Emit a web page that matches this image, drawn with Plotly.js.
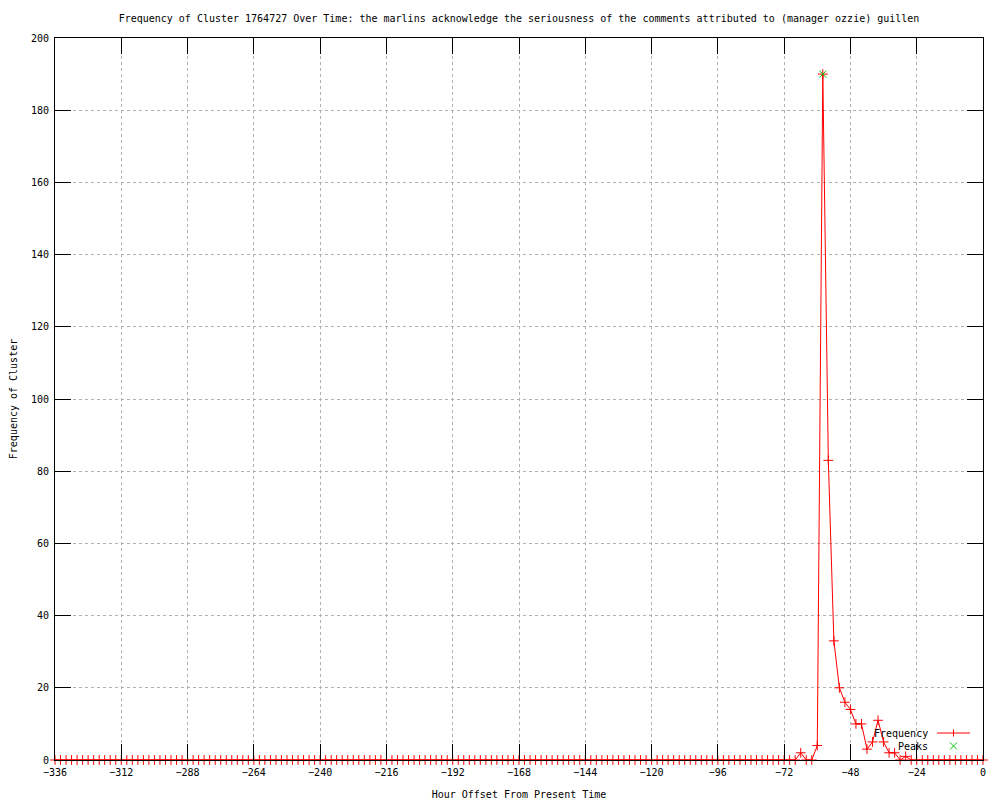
<!DOCTYPE html>
<html>
<head>
<meta charset="utf-8">
<script src="https://cdn.plot.ly/plotly-3.0.1.min.js"></script>
<style>html,body{margin:0;padding:0;background:#fff;}#chart{width:1000px;height:800px;}</style>
</head>
<body>
<div id="chart"></div>
<script>
// Hour offsets (2-hour bins)
var hours = [
  -336,-334,-332,-330,-328,-326,-324,-322,-320,-318,-316,-314,
  -312,-310,-308,-306,-304,-302,-300,-298,-296,-294,-292,-290,
  -288,-286,-284,-282,-280,-278,-276,-274,-272,-270,-268,-266,
  -264,-262,-260,-258,-256,-254,-252,-250,-248,-246,-244,-242,
  -240,-238,-236,-234,-232,-230,-228,-226,-224,-222,-220,-218,
  -216,-214,-212,-210,-208,-206,-204,-202,-200,-198,-196,-194,
  -192,-190,-188,-186,-184,-182,-180,-178,-176,-174,-172,-170,
  -168,-166,-164,-162,-160,-158,-156,-154,-152,-150,-148,-146,
  -144,-142,-140,-138,-136,-134,-132,-130,-128,-126,-124,-122,
  -120,-118,-116,-114,-112,-110,-108,-106,-104,-102,-100,-98,
  -96,-94,-92,-90,-88,-86,-84,-82,-80,-78,-76,-74,
  -72,-70,-68,-66,-64,-62,-60,-58,-56,-54,-52,-50,
  -48,-46,-44,-42,-40,-38,-36,-34,-32,-30,-28,-26,
  -24,-22,-20,-18,-16,-14,-12,-10,-8,-6,-4,-2,
  0
];
var frequency = [
  0,0,0,0,0,0,0,0,0,0,0,0,
  0,0,0,0,0,0,0,0,0,0,0,0,
  0,0,0,0,0,0,0,0,0,0,0,0,
  0,0,0,0,0,0,0,0,0,0,0,0,
  0,0,0,0,0,0,0,0,0,0,0,0,
  0,0,0,0,0,0,0,0,0,0,0,0,
  0,0,0,0,0,0,0,0,0,0,0,0,
  0,0,0,0,0,0,0,0,0,0,0,0,
  0,0,0,0,0,0,0,0,0,0,0,0,
  0,0,0,0,0,0,0,0,0,0,0,0,
  0,0,0,0,0,0,0,0,0,0,0,0,
  0,0,0,2,0,0,4,190,83,33,20,16,
  14,10,10,3,5,11,5,2,2,0,1,0,
  0,0,0,0,0,0,0,0,0,0,0,0,
  0
];
var peakHours = [-58];
var peakValues = [190];

var titleText = "Frequency of Cluster 1764727 Over Time: the marlins acknowledge the seriousness of the comments attributed to (manager ozzie) guillen";
var xTitle = "Hour Offset From Present Time";
var yTitle = "Frequency of Cluster";
var seriesNames = ["Frequency", "Peaks"];

var FONT = "DejaVu Sans Mono, monospace";
var L = 55, R = 983, T = 38, B = 760;
function px(x){ return (x - L) / (R - L); }
function py(y){ return (B - y) / (B - T); }

var traces = [
  {
    x: hours, y: frequency, type: "scatter", mode: "lines+markers",
    name: seriesNames[0], cliponaxis: false,
    line: {color: "#ff0000", width: 1},
    marker: {symbol: "cross-thin-open", size: 7, color: "#ff0000", line: {color: "#ff0000", width: 1}}
  },
  {
    x: peakHours, y: peakValues, type: "scatter", mode: "markers",
    name: seriesNames[1], cliponaxis: false,
    marker: {symbol: "x-thin-open", size: 7, color: "#00c000", line: {color: "#00c000", width: 1}}
  }
];

var axisCommon = {
  showline: true, mirror: "ticks", linecolor: "#000", linewidth: 1,
  ticks: "inside", ticklen: 16, tickcolor: "#000", tickwidth: 1,
  showgrid: true, gridcolor: "#b0b0b0", gridwidth: 1, griddash: "3px,3px",
  zeroline: false, tickfont: {family: FONT, size: 10, color: "#000"}
};

var layout = {
  width: 1000, height: 800,
  paper_bgcolor: "#fff", plot_bgcolor: "#fff",
  margin: {l: L, r: 1000 - R, t: T, b: 800 - B},
  showlegend: false,
  font: {family: FONT, size: 10, color: "#000"},
  title: {text: titleText, font: {family: FONT, size: 10, color: "#000"}, x: 0.5, xref: "paper", y: 1 - 18/800, yref: "container", yanchor: "middle"},
  xaxis: Object.assign({}, axisCommon, {
    range: [-336, 0], tick0: -336, dtick: 24, ticklabelstandoff: 3,
    title: {text: xTitle, font: {family: FONT, size: 10, color: "#000"}, standoff: 14}
  }),
  yaxis: Object.assign({}, axisCommon, {
    range: [0, 200], tick0: 0, dtick: 20, ticklabelstandoff: 3,
    title: {text: yTitle, font: {family: FONT, size: 10, color: "#000"}, standoff: 11}
  }),
  annotations: [
    {xref: "paper", yref: "paper", x: px(930), y: py(733), xanchor: "right", yanchor: "middle", text: seriesNames[0], showarrow: false, font: {family: FONT, size: 10, color: "#000"}},
    {xref: "paper", yref: "paper", x: px(930), y: py(746), xanchor: "right", yanchor: "middle", text: seriesNames[1], showarrow: false, font: {family: FONT, size: 10, color: "#000"}}
  ],
  shapes: [
    {type: "line", xref: "paper", yref: "paper", x0: px(937), x1: px(970), y0: py(733), y1: py(733), line: {color: "#ff0000", width: 1}},
    {type: "line", xref: "paper", yref: "paper", x0: px(953.5), x1: px(953.5), y0: py(729.5), y1: py(736.5), line: {color: "#ff0000", width: 1}},
    {type: "line", xref: "paper", yref: "paper", x0: px(950), x1: px(957), y0: py(742.5), y1: py(749.5), line: {color: "#00c000", width: 1}},
    {type: "line", xref: "paper", yref: "paper", x0: px(950), x1: px(957), y0: py(749.5), y1: py(742.5), line: {color: "#00c000", width: 1}}
  ]
};

Plotly.newPlot("chart", traces, layout, {displayModeBar: false, staticPlot: true});
</script>
</body>
</html>
